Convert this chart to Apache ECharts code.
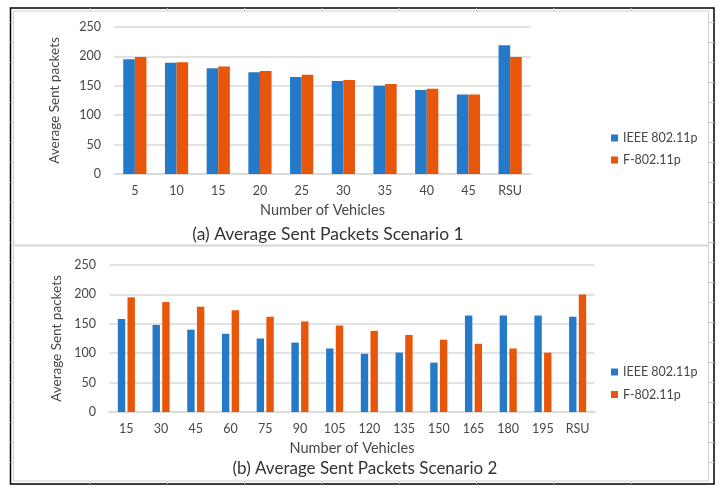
<!DOCTYPE html>
<html>
<head>
<meta charset="utf-8">
<script src="https://cdn.jsdelivr.net/npm/echarts@6/dist/echarts.min.js"></script>
<style>
html,body{margin:0;padding:0;background:#fff;}
#chart{width:726px;height:497px;}
</style>
</head>
<body>
<div id="chart"></div>
<script>
// ---- data ----
var categories1 = ['5','10','15','20','25','30','35','40','45','RSU'];
var ieee1 = [195,189,180,173,165,158,150,143,135,219];
var f1 = [199,190,183,175,169,160,153,145,135,199];

var categories2 = ['15','30','45','60','75','90','105','120','135','150','165','180','195','RSU'];
var ieee2 = [158,148,140,133,125,118,108,99,101,84,164,164,164,162];
var f2 = [195,187,179,173,162,154,147,138,131,123,116,108,101,200];

var yTicks = [0,50,100,150,200,250];
var seriesNames = ['IEEE 802.11p','F-802.11p'];
var captions = ['(a) Average Sent Packets Scenario 1','(b) Average Sent Packets Scenario 2'];

// ---- styling ----
var FONT = 'Lato, "Open Sans", sans-serif';
var BLUE = '#2479c9';
var ORANGE = '#e8560a';
var GRID_C = '#d9d9d9';
var TXT = '#474747';

function yAxis(idx, gap){
  return {
    type:'value', gridIndex:idx, min:yTicks[0], max:yTicks[yTicks.length-1], interval:50,
    name:'Average Sent packets', nameLocation:'middle', nameGap:gap, nameRotate:90,
    nameTextStyle:{color:TXT, fontSize:13.5, fontFamily:FONT},
    axisLine:{show:false}, axisTick:{show:false},
    axisLabel:{color:TXT, fontSize:12.5, fontFamily:FONT, margin:13},
    splitLine:{lineStyle:{color:GRID_C, width:1.5}}
  };
}
function xAxis(idx, cats){
  return {
    type:'category', gridIndex:idx, data:cats,
    name:'Number of Vehicles', nameLocation:'middle', nameGap:29,
    nameTextStyle:{color:TXT, fontSize:14.5, fontFamily:FONT},
    axisLine:{lineStyle:{color:GRID_C, width:1.5}}, axisTick:{show:false},
    axisLabel:{color:TXT, fontSize:12.5, fontFamily:FONT, margin:10}
  };
}

// frame graphics
var graphics = [
  {type:'rect', shape:{x:10.5,y:8,width:703.5,height:476}, style:{fill:null, stroke:'#000', lineWidth:1.5}, z:10},
  {type:'rect', shape:{x:13.5,y:11,width:695,height:470}, style:{fill:null, stroke:'#d0d0d0', lineWidth:1}, z:10},
  {type:'line', shape:{x1:13.5,y1:245.5,x2:708.5,y2:245.5}, style:{stroke:'#d6d6d6', lineWidth:2}, z:10}
];
for (var i=0;i<8;i++){
  var xx = 90 + i*77.3;
  graphics.push({type:'line', shape:{x1:xx,y1:8,x2:xx,y2:11}, style:{stroke:'#c8c8c8', lineWidth:1}, z:10});
  graphics.push({type:'line', shape:{x1:xx,y1:481,x2:xx,y2:484}, style:{stroke:'#c8c8c8', lineWidth:1}, z:10});
}
for (var k=1;k<24;k++){
  var yy = 2.5 + k*20;
  graphics.push({type:'line', shape:{x1:10.5,y1:yy,x2:13.5,y2:yy}, style:{stroke:'#c8c8c8', lineWidth:1}, z:10});
  graphics.push({type:'line', shape:{x1:708.5,y1:yy,x2:714,y2:yy}, style:{stroke:'#c8c8c8', lineWidth:1}, z:10});
}

var chart = echarts.init(document.getElementById('chart'), null, {renderer:'canvas'});
chart.setOption({
  backgroundColor:'#fff',
  animation:false,
  color:[BLUE, ORANGE],
  title:[
    {text:captions[0], left:323, top:220, textAlign:'center',
     textStyle:{color:'#333', fontSize:17.5, fontWeight:'normal', fontFamily:FONT}},
    {text:captions[1], left:360, top:455, textAlign:'center',
     textStyle:{color:'#333', fontSize:17, fontWeight:'normal', fontFamily:FONT}}
  ],
  legend:[
    {orient:'vertical', left:606, top:126, itemWidth:7, itemHeight:7, itemGap:8, icon:'rect',
     data:seriesNames, textStyle:{color:TXT, fontSize:12.5, fontFamily:FONT, lineHeight:14}},
    {orient:'vertical', left:606, top:360, itemWidth:7, itemHeight:7, itemGap:8.5, icon:'rect',
     data:seriesNames, textStyle:{color:TXT, fontSize:12.5, fontFamily:FONT, lineHeight:14}}
  ],
  grid:[
    {left:114, right:195, top:27, height:147},
    {left:109, right:131, top:265, height:147}
  ],
  xAxis:[xAxis(0, categories1), xAxis(1, categories2)],
  yAxis:[yAxis(0, 52), yAxis(1, 42)],
  series:[
    {name:seriesNames[0], type:'bar', xAxisIndex:0, yAxisIndex:0, data:ieee1, barWidth:11.6, barGap:'0%', itemStyle:{color:BLUE}},
    {name:seriesNames[1], type:'bar', xAxisIndex:0, yAxisIndex:0, data:f1, barWidth:11.6, barGap:'0%', itemStyle:{color:ORANGE}},
    {name:seriesNames[0], type:'bar', xAxisIndex:1, yAxisIndex:1, data:ieee2, barWidth:7.4, barGap:'31%', itemStyle:{color:BLUE}},
    {name:seriesNames[1], type:'bar', xAxisIndex:1, yAxisIndex:1, data:f2, barWidth:7.4, barGap:'31%', itemStyle:{color:ORANGE}}
  ],
  graphic:graphics
});
</script>
</body>
</html>
